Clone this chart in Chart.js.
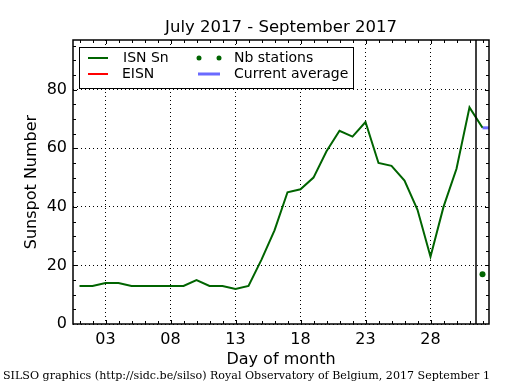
<!DOCTYPE html>
<html>
<head>
<meta charset="utf-8">
<script src="https://cdn.jsdelivr.net/npm/chart.js@4"></script>
<style>html,body{margin:0;padding:0;background:#fff}</style>
</head>
<body>
<canvas id="myChart" width="515" height="390"></canvas>
<script>
const days = [1,2,3,4,5,6,7,8,9,10,11,12,13,14,15,16,17,18,19,20,21,22,23,24,25,26,27,28,29,30,31,32];
const isn = [13,13,14,14,13,13,13,13,13,15,13,13,12,13,22,32,45,46,50,59,66,64,69,55,54,49,39,23,40,53,74,67];
const eisn = [];
const nbDays = [32];
const nbStations = [17];
const avgDays = [32, 32.5];
const avgValues = [67, 67];
const xTicks = [3, 8, 13, 18, 23, 28];
const xTickLabels = ['03', '08', '13', '18', '23', '28'];
const yTicks = [0, 20, 40, 60, 80];
const monthEnd = 31.5;
const titleText = 'July 2017 - September 2017';

const FONT = 'DejaVu Sans';
const ctx = document.getElementById('myChart');

const toXY = (xs, ys) => xs.map((x, i) => ({x: x, y: ys[i]}));

// title over plot, frame, inward ticks, month separator, legend and footer
const extras = {
  id: 'extras',
  afterDraw(chart) {
    const c = chart.ctx;
    const a = chart.chartArea;
    const xs = chart.scales.x, ys = chart.scales.y;
    c.save();
    c.strokeStyle = '#000';

    // title centred on the plot area
    c.fillStyle = '#000';
    c.font = '16.5px "' + FONT + '"';
    c.textAlign = 'center';
    c.textBaseline = 'middle';
    c.fillText(titleText, (a.left + a.right) / 2, 28);
    c.textAlign = 'left';

    // month separator
    c.lineWidth = 1.5;
    const sx = xs.getPixelForValue(monthEnd);
    c.beginPath(); c.moveTo(sx, a.top); c.lineTo(sx, a.bottom); c.stroke();

    // ticks
    c.lineWidth = 1;
    for (let d = 1; d <= 32; d++) {
      const px = Math.round(xs.getPixelForValue(d)) + 0.5;
      const len = xTicks.includes(d) ? 4 : 3;
      c.beginPath();
      c.moveTo(px, a.bottom); c.lineTo(px, a.bottom - len);
      c.moveTo(px, a.top); c.lineTo(px, a.top + len);
      c.stroke();
    }
    for (let v = 5; v < 97; v += 5) {
      const py = Math.round(ys.getPixelForValue(v)) + 0.5;
      const len = yTicks.includes(v) ? 4 : 3;
      c.beginPath();
      c.moveTo(a.left, py); c.lineTo(a.left + len, py);
      c.moveTo(a.right, py); c.lineTo(a.right - len, py);
      c.stroke();
    }

    // frame
    c.lineWidth = 1.5;
    c.strokeRect(a.left, a.top, a.right - a.left, a.bottom - a.top);

    // legend
    const ds = chart.data.datasets;
    const lx = a.left + 6, ly = a.top + 7;
    c.fillStyle = '#fff';
    c.fillRect(lx, ly, 274, 41);
    c.lineWidth = 1;
    c.strokeRect(lx + 0.5, ly + 0.5, 274, 41);
    c.font = '14px "' + FONT + '"';
    c.textBaseline = 'middle';
    c.fillStyle = '#000';
    const r1 = ly + 11, r2 = ly + 27;
    c.lineWidth = 2;
    c.strokeStyle = ds[0].borderColor;
    c.beginPath(); c.moveTo(lx + 9, r1); c.lineTo(lx + 29, r1); c.stroke();
    c.fillText(ds[0].label, lx + 44, r1);
    c.strokeStyle = ds[1].borderColor;
    c.beginPath(); c.moveTo(lx + 9, r2); c.lineTo(lx + 29, r2); c.stroke();
    c.fillText(ds[1].label, lx + 43, r2);
    c.fillStyle = ds[2].backgroundColor;
    [lx + 120, lx + 140].forEach(px => {
      c.beginPath(); c.arc(px, r1, 2.5, 0, Math.PI * 2); c.fill();
    });
    c.fillStyle = '#000';
    c.fillText(ds[2].label, lx + 155, r1);
    c.lineWidth = 3;
    c.strokeStyle = ds[3].borderColor;
    c.beginPath(); c.moveTo(lx + 119, r2); c.lineTo(lx + 141, r2); c.stroke();
    c.fillText(ds[3].label, lx + 155, r2);

    // footer
    c.font = '11.1px "DejaVu Serif"';
    c.fillText('SILSO graphics (http://sidc.be/silso) Royal Observatory of Belgium, 2017 September 1', 3, 376);
    c.restore();
  }
};

const data = {
  datasets: [{
    label: 'ISN Sn',
    data: toXY(days, isn),
    borderColor: '#006400',
    borderWidth: 2,
    pointRadius: 0,
    tension: 0
  }, {
    label: 'EISN',
    data: eisn,
    borderColor: '#ff0000',
    borderWidth: 2,
    pointRadius: 0
  }, {
    label: 'Nb stations',
    data: toXY(nbDays, nbStations),
    showLine: false,
    backgroundColor: '#006400',
    borderColor: '#006400',
    pointRadius: 3,
    pointBorderWidth: 0
  }, {
    label: 'Current average',
    data: toXY(avgDays, avgValues),
    borderColor: 'rgba(90,90,255,0.9)',
    borderWidth: 3,
    pointRadius: 0
  }]
};

const config = {
  type: 'line',
  data: data,
  options: {
    responsive: false,
    animation: false,
    layout: {
      padding: {left: 0, right: 26, top: 0, bottom: 16}
    },
    plugins: {
      legend: {display: false},
      tooltip: {enabled: false},
      title: {
        // keeps the space; the text itself is drawn by the plugin
        display: true,
        text: titleText,
        color: 'rgba(0,0,0,0)',
        font: {family: FONT, size: 15, weight: 'normal'},
        padding: {top: 18, bottom: 4}
      }
    },
    scales: {
      x: {
        type: 'linear',
        min: 0.5,
        max: 32.5,
        afterBuildTicks: s => { s.ticks = xTicks.map(v => ({value: v})); },
        afterFit: s => { s.height = 50; },
        ticks: {
          callback: v => xTickLabels[xTicks.indexOf(v)],
          color: '#000',
          font: {family: FONT, size: 16},
          padding: 6,
          maxRotation: 0,
          autoSkip: false
        },
        grid: {color: '#000', lineWidth: 1, drawTicks: false},
        border: {display: false, dash: [1, 3]},
        title: {
          display: true,
          text: 'Day of month',
          color: '#000',
          font: {family: FONT, size: 16},
          padding: {top: 0, bottom: 5}
        }
      },
      y: {
        min: 0,
        max: 97,
        afterBuildTicks: s => { s.ticks = yTicks.map(v => ({value: v})); },
        afterFit: s => { s.width = 73; },
        ticks: {
          color: '#000',
          font: {family: FONT, size: 16},
          padding: 6
        },
        grid: {color: '#000', lineWidth: 1, drawTicks: false},
        border: {display: false, dash: [1, 3]},
        title: {
          display: true,
          text: 'Sunspot Number',
          color: '#000',
          font: {family: FONT, size: 16},
          padding: {top: 22, bottom: 0}
        }
      }
    }
  },
  plugins: [extras]
};

let chart = new Chart(ctx, config);
</script>
</body>
</html>
